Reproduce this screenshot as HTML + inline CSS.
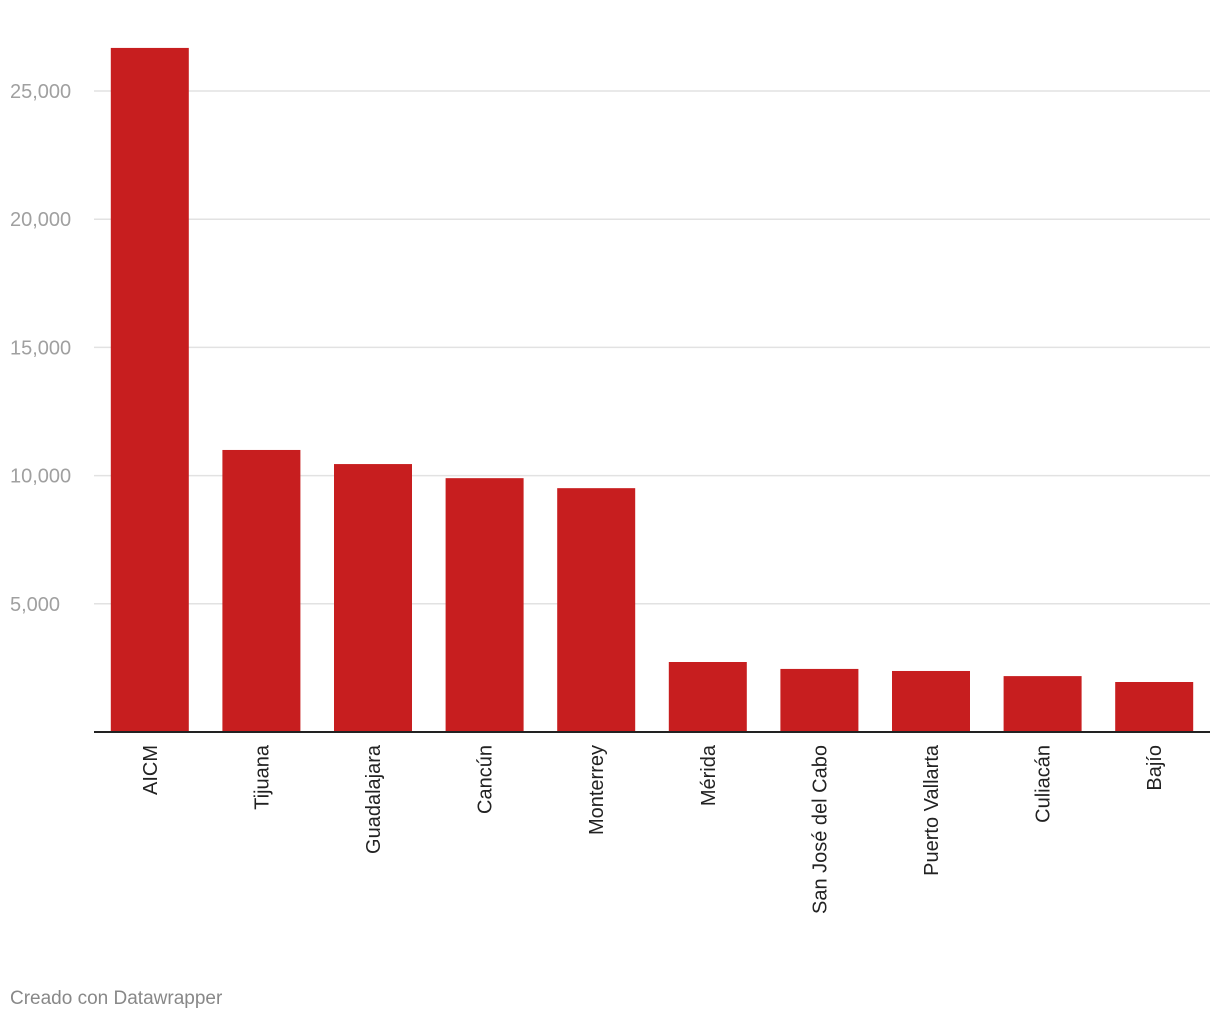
<!DOCTYPE html>
<html><head><meta charset="utf-8"><style>
body{margin:0;background:#fff;width:1220px;height:1020px;overflow:hidden;font-family:"Liberation Sans",sans-serif}
</style></head><body>
<svg id="chart" width="1220" height="1020" xmlns="http://www.w3.org/2000/svg"></svg>
<script>
const categories=["AICM","Tijuana","Guadalajara","Cancún","Monterrey","Mérida","San José del Cabo","Puerto Vallarta","Culiacán","Bajío"];
const values=[26680,11000,10450,9900,9510,2730,2460,2380,2180,1950];
const ticks=[5000,10000,15000,20000,25000];
const tickLabels=["5,000","10,000","15,000","20,000","25,000"];
const NS="http://www.w3.org/2000/svg";
const svg=document.getElementById('chart');
const x0=94,x1=1210,y0=732,yTop=91,maxV=25000;
const y=v=>y0-(v/maxV)*(y0-yTop);
const band=(x1-x0)/categories.length;
const bw=78;
function mk(t,a){const e=document.createElementNS(NS,t);for(const k in a)e.setAttribute(k,a[k]);svg.appendChild(e);return e;}
ticks.forEach((t,i)=>{
  const g=mk('line',{x1:x0,x2:x1,y1:y(t),y2:y(t),stroke:'#e2e2e2','stroke-width':1.5});
  
  
  const l=mk('text',{x:10,y:y(t)+7,'font-size':20,fill:'#a0a0a0'});
  
  
  l.textContent=tickLabels[i];
});
categories.forEach((c,i)=>{
  const bx=x0+i*band+(band-bw)/2;
  const r=mk('rect',{x:bx,y:y(values[i]),width:bw,height:y0-y(values[i]),fill:'#c71e1f'});
  
  
  const cx=bx+bw/2+7, ty=745;
  const t=mk('text',{x:cx,y:ty,'font-size':20,fill:'#222','text-anchor':'end',transform:`rotate(-90 ${cx} ${ty})`});
  
  
  t.textContent=c;
});
const ax=mk('line',{x1:x0,x2:x1,y1:y0,y2:y0,stroke:'#222','stroke-width':2});


const f=mk('text',{x:10,y:1004,'font-size':19,fill:'#888'});


f.textContent="Creado con Datawrapper";
</script>
</body></html>
